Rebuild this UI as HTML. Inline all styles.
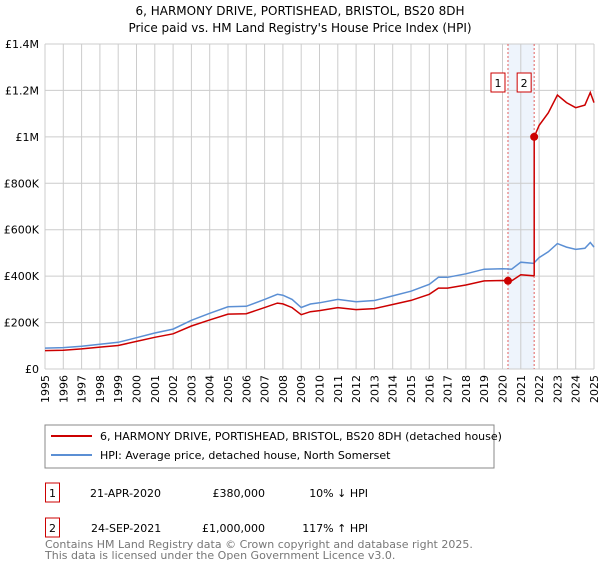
<!DOCTYPE html>
<html><head><meta charset="utf-8">
<style>
body{margin:0;background:#fff;font-family:"DejaVu Sans","Liberation Sans",sans-serif;}
svg text{font-family:"DejaVu Sans","Liberation Sans",sans-serif;}
</style></head>
<body>
<svg id="chart" width="600" height="560" viewBox="0 0 600 560">
<text x="300" y="15" text-anchor="middle" font-size="12">6, HARMONY DRIVE, PORTISHEAD, BRISTOL, BS20 8DH</text>
<text x="300" y="32" text-anchor="middle" font-size="12">Price paid vs. HM Land Registry's House Price Index (HPI)</text>
<g id="grid"></g><g id="marks"></g><g id="axes"></g>
<rect x="45" y="425" width="449" height="43" fill="#fff" stroke="#888"/>
<line x1="51" y1="436" x2="92" y2="436" stroke="#cc0000" stroke-width="2"/>
<text x="100" y="440" font-size="11">6, HARMONY DRIVE, PORTISHEAD, BRISTOL, BS20 8DH (detached house)</text>
<line x1="51" y1="455" x2="92" y2="455" stroke="#5b8fd4" stroke-width="2"/>
<text x="100" y="459" font-size="11">HPI: Average price, detached house, North Somerset</text>
<rect x="45.5" y="483" width="14" height="19" fill="#fff" stroke="#cc0000"/>
<text x="52.5" y="497" font-size="11" text-anchor="middle">1</text>
<text x="90" y="497" font-size="11">21-APR-2020</text>
<text x="265" y="497" font-size="11" text-anchor="end">£380,000</text>
<text x="368" y="497" font-size="11" text-anchor="end">10% ↓ HPI</text>
<rect x="45.5" y="518" width="14" height="19" fill="#fff" stroke="#cc0000"/>
<text x="52.5" y="532" font-size="11" text-anchor="middle">2</text>
<text x="91" y="532" font-size="11">24-SEP-2021</text>
<text x="265" y="532" font-size="11" text-anchor="end">£1,000,000</text>
<text x="368" y="532" font-size="11" text-anchor="end">117% ↑ HPI</text>
<text x="45" y="548" font-size="11" fill="#777">Contains HM Land Registry data © Crown copyright and database right 2025.</text>
<text x="45" y="559" font-size="11" fill="#777">This data is licensed under the Open Government Licence v3.0.</text>
</svg>
<script>
const hpiYears=[1995,1996,1997,1998,1999,2000,2001,2002,2003,2004,2005,2006,2007,2007.7,2008,2008.5,2009,2009.5,2010,2011,2012,2013,2014,2015,2016,2016.5,2017,2018,2019,2020,2020.5,2021,2021.7,2022,2022.5,2023,2023.5,2024,2024.5,2024.8,2025];
const hpiValues=[90000,92000,98000,107000,115000,135000,155000,172000,210000,240000,268000,270000,300000,322000,318000,300000,265000,280000,285000,300000,290000,295000,315000,335000,365000,395000,395000,410000,430000,432000,430000,460000,455000,480000,505000,540000,525000,515000,520000,545000,525000];
const saleDates=[2020.3,2021.73];
const salePrices=[380000,1000000];
const yTicks=[0,200000,400000,600000,800000,1000000,1200000,1400000];
const yTickLabels=["£0","£200K","£400K","£600K","£800K","£1M","£1.2M","£1.4M"];
const xTicks=[1995,1996,1997,1998,1999,2000,2001,2002,2003,2004,2005,2006,2007,2008,2009,2010,2011,2012,2013,2014,2015,2016,2017,2018,2019,2020,2021,2022,2023,2024,2025];
const L=45,R=594,T=44,B=369;
const xS=y=>L+(y-1995)/30*(R-L);
const yS=v=>B-v/1400000*(B-T);
const NS="http://www.w3.org/2000/svg";
function mk(p,t,a){const e=document.createElementNS(NS,t);for(const k in a)e.setAttribute(k,a[k]);p.appendChild(e);return e;}
const grid=document.getElementById('grid'),marks=document.getElementById('marks'),axes=document.getElementById('axes');
// shaded band
const band=mk(grid,'rect',{x:xS(saleDates[0]),y:T,width:xS(saleDates[1])-xS(saleDates[0]),height:B-T,fill:'#eef4fc'});


xTicks.forEach(t=>{const l=mk(grid,'line',{x1:xS(t),x2:xS(t),y1:T,y2:B,stroke:'#ccc'});


const tx=mk(axes,'text',{x:0,y:0,'font-size':11,'text-anchor':'end',transform:`translate(${xS(t)+4},${B+6}) rotate(-90)`});tx.textContent=t;

});
yTicks.forEach((t,i)=>{const l=mk(grid,'line',{x1:L,x2:R,y1:yS(t),y2:yS(t),stroke:'#ccc'});


const tx=mk(axes,'text',{x:L-6,y:yS(t)+4,'font-size':11,'text-anchor':'end'});tx.textContent=yTickLabels[i];

});
saleDates.forEach((d,i)=>{const l=mk(grid,'line',{x1:xS(d),x2:xS(d),y1:T,y2:B,stroke:'#e06060','stroke-dasharray':'2,2'});


const r=mk(axes,'rect',{x:xS(d)-17,y:73,width:14,height:19,fill:'#fff',stroke:'#cc0000'});


const tx=mk(axes,'text',{x:xS(d)-10,y:87,'font-size':11,'text-anchor':'middle'});tx.textContent=i+1;});
function hpiAt(y){for(let i=0;i<hpiYears.length-1;i++){if(y<=hpiYears[i+1]){const f=(y-hpiYears[i])/(hpiYears[i+1]-hpiYears[i]);return hpiValues[i]+f*(hpiValues[i+1]-hpiValues[i]);}}return hpiValues[hpiValues.length-1];}
const hp=hpiYears.map((y,i)=>`${xS(y).toFixed(1)},${yS(hpiValues[i]).toFixed(1)}`).join(' ');
const hl=mk(marks,'polyline',{points:hp,fill:'none',stroke:'#5b8fd4','stroke-width':1.5});


// property line: indexed by HPI from each sale
const r1=salePrices[0]/hpiAt(saleDates[0]),r2=salePrices[1]/hpiAt(saleDates[1]);
let pts=[];
hpiYears.forEach((y,i)=>{if(y<saleDates[1])pts.push([y,hpiValues[i]*r1]);});
pts.push([saleDates[1],hpiAt(saleDates[1])*r1]);pts.push([saleDates[1],salePrices[1]]);
hpiYears.forEach((y,i)=>{if(y>saleDates[1])pts.push([y,hpiValues[i]*r2]);});
const pl=mk(marks,'polyline',{points:pts.map(p=>`${xS(p[0]).toFixed(1)},${yS(p[1]).toFixed(1)}`).join(' '),fill:'none',stroke:'#cc0000','stroke-width':1.5});


saleDates.forEach((d,i)=>{const c=mk(marks,'circle',{cx:xS(d),cy:yS(salePrices[i]),r:4,fill:'#cc0000'});

});
</script>
</body></html>
